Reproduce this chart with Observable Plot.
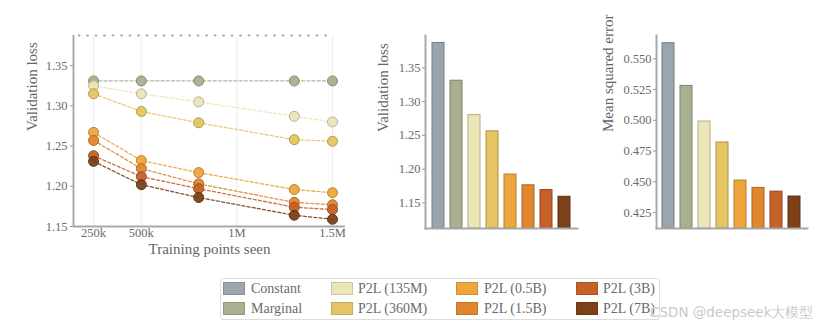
<!DOCTYPE html>
<html>
<head>
<meta charset="utf-8">
<script src="https://cdn.jsdelivr.net/npm/d3@7"></script>
<script src="https://cdn.jsdelivr.net/npm/@observablehq/plot@0.6"></script>
<style>
  body { margin: 0; background: #fff; }
  #wrap { position: relative; width: 832px; height: 332px; overflow: hidden; background: #fff; font-family: "Liberation Serif", serif; }
  .chart { position: absolute; top: 0; }
  #legend { position: absolute; left: 220px; top: 278px; width: 440px; height: 42px; border: 1px solid #ddd; border-radius: 3px; box-sizing: border-box; }
  .sw { position: absolute; width: 22px; height: 13px; box-sizing: border-box; }
  .lt { position: absolute; font-size: 14px; color: #6a6a6a; line-height: 13px; white-space: nowrap; }
  #wm { position: absolute; left: 650px; top: 304px; font-family: "DejaVu Sans", sans-serif; font-size: 13.5px; color: #cacaca; white-space: nowrap; text-shadow: 0 0 1px #fff; }
</style>
</head>
<body>
<div id="wrap">
  <div id="c1" class="chart" style="left:0px"></div>
  <div id="c2" class="chart" style="left:370px"></div>
  <div id="c3" class="chart" style="left:590px"></div>
  <div id="legend"></div>
  <div id="wm">CSDN @deepseek大模型</div>
</div>
<script>
// ---- data ----
const models = ["Constant", "Marginal", "P2L (135M)", "P2L (360M)", "P2L (0.5B)", "P2L (1.5B)", "P2L (3B)", "P2L (7B)"];
const modelColors = ["#9aa6ad", "#a9b08f", "#ece5b8", "#e5c563", "#eea63c", "#e0872d", "#c6612a", "#7c4119"];

const trainPoints = [250000, 500000, 800000, 1300000, 1500000];
const lossConstant = 1.3875;
const lossMarginal = [1.331, 1.331, 1.331, 1.331, 1.331];
const loss135M = [1.325, 1.315, 1.305, 1.287, 1.280];
const loss360M = [1.315, 1.293, 1.279, 1.258, 1.256];
const loss05B = [1.267, 1.232, 1.217, 1.196, 1.192];
const loss15B = [1.257, 1.222, 1.203, 1.180, 1.177];
const loss3B = [1.238, 1.212, 1.197, 1.174, 1.171];
const loss7B = [1.231, 1.202, 1.186, 1.164, 1.159];

const xTickValues = [250000, 500000, 1000000, 1500000];
const xTickLabels = ["250k", "500k", "1M", "1.5M"];

const barLoss = [1.387, 1.331, 1.280, 1.256, 1.192, 1.176, 1.169, 1.159];
const barMSE = [0.5627, 0.528, 0.499, 0.482, 0.451, 0.445, 0.442, 0.438];

// ---- build tables ----
const lineSeries = [
  ["Marginal", lossMarginal], ["P2L (135M)", loss135M], ["P2L (360M)", loss360M],
  ["P2L (0.5B)", loss05B], ["P2L (1.5B)", loss15B], ["P2L (3B)", loss3B], ["P2L (7B)", loss7B]
];
const linePts = lineSeries.flatMap(([m, vals]) => vals.map((v, i) => ({model: m, x: trainPoints[i], y: v})));
const colorOf = m => modelColors[models.indexOf(m)];
const darker = (c, k) => d3.color(c).darker(k).formatHex();

const baseStyle = {fontFamily: "Liberation Serif, serif", fontSize: "12.5px", color: "#6a6a6a", background: "transparent", overflow: "visible"};
const spine = "#a8a8a8";

// ---- chart 1: lines ----
const c1 = Plot.plot({
  width: 360, height: 265,
  marginLeft: 73, marginTop: 35, marginBottom: 39, marginRight: 15,
  style: baseStyle,
  x: {domain: [145000, 1568000]},
  y: {domain: [1.15, lossConstant]},
  marks: [
    Plot.ruleX(xTickValues, {stroke: "#ececec", strokeWidth: 1}),
    Plot.ruleY([lossConstant], {x1: 170000, x2: 1500000, stroke: "#aaaaaa", strokeWidth: 1.8, strokeDasharray: "2.5,6"}),
    Plot.line(linePts, {x: "x", y: "y", z: "model", stroke: d => colorOf(d.model), strokeWidth: 1.3, strokeDasharray: "3,2.2", strokeOpacity: 0.9}),
    Plot.dot(linePts, {x: "x", y: "y", r: 5, fill: d => colorOf(d.model), stroke: d => darker(colorOf(d.model), 0.7), strokeWidth: 1, fillOpacity: 0.95}),
    Plot.ruleX([145000], {stroke: spine, strokeWidth: 2}),
    Plot.ruleY([1.15], {stroke: spine, strokeWidth: 2}),
    Plot.axisY({ticks: [1.15, 1.2, 1.25, 1.3, 1.35], tickFormat: d3.format(".2f"), tickSize: 3, tickPadding: 3, label: null, stroke: "#999"}),
    Plot.axisX({ticks: xTickValues, tickFormat: d => xTickLabels[xTickValues.indexOf(d)], tickSize: 0, tickPadding: 2, label: null}),
    Plot.text(["Validation loss"], {text: d => d, frameAnchor: "left", dx: -41, rotate: -90, fontSize: 15, fill: "#666"}),
    Plot.text(["Training points seen"], {text: d => d, frameAnchor: "bottom", dy: 27, fontSize: 15, fill: "#666"})
  ]
});
document.getElementById("c1").append(c1);

// ---- bar charts ----
function barChart(values, opts) {
  const data = models.map((m, i) => ({model: m, v: values[i]}));
  return Plot.plot({
    width: opts.width, height: 265,
    marginLeft: opts.marginLeft, marginTop: 35, marginBottom: 37, marginRight: 8,
    style: baseStyle,
    x: {domain: models, padding: 0.33, axis: null},
    y: {domain: opts.domain},
    marks: [
      Plot.barY(data, {x: "model", y1: opts.domain[0], y2: "v", fill: d => colorOf(d.model), stroke: d => darker(colorOf(d.model), 0.8), strokeWidth: 1}),
      Plot.frame({anchor: "left", stroke: spine, strokeWidth: 2}),
      Plot.frame({anchor: "bottom", stroke: spine, strokeWidth: 2}),
      Plot.axisY({ticks: opts.ticks, tickFormat: d3.format(opts.fmt), tickSize: 3, tickPadding: 2, label: null, stroke: "#999"}),
      Plot.text([opts.title], {text: d => d, frameAnchor: "left", dx: opts.titleDx, rotate: -90, fontSize: 15, fill: "#666"})
    ]
  });
}
document.getElementById("c2").append(barChart(barLoss, {
  width: 215, marginLeft: 55, domain: [1.112, 1.398],
  ticks: [1.15, 1.2, 1.25, 1.3, 1.35], fmt: ".2f", title: "Validation loss", titleDx: -42
}));
document.getElementById("c3").append(barChart(barMSE, {
  width: 225, marginLeft: 66, domain: [0.412, 0.569],
  ticks: [0.425, 0.45, 0.475, 0.5, 0.525, 0.55], fmt: ".3f", title: "Mean squared error", titleDx: -48
}));

// ---- legend ----
const legend = document.getElementById("legend");
const colX = [[2, 30], [110, 137], [235, 263], [355, 382]];
const rowY = [3, 23];
models.forEach((m, i) => {
  const col = Math.floor(i / 2), row = i % 2;
  const sw = document.createElement("div");
  sw.className = "sw";
  sw.style.left = colX[col][0] + "px";
  sw.style.top = rowY[row] + "px";
  sw.style.background = modelColors[i];
  sw.style.border = "1px solid " + darker(modelColors[i], 0.4);
  legend.append(sw);
  const t = document.createElement("div");
  t.className = "lt";
  t.style.left = colX[col][1] + "px";
  t.style.top = (rowY[row]) + "px";
  t.textContent = m;
  legend.append(t);
});
</script>
</body>
</html>
